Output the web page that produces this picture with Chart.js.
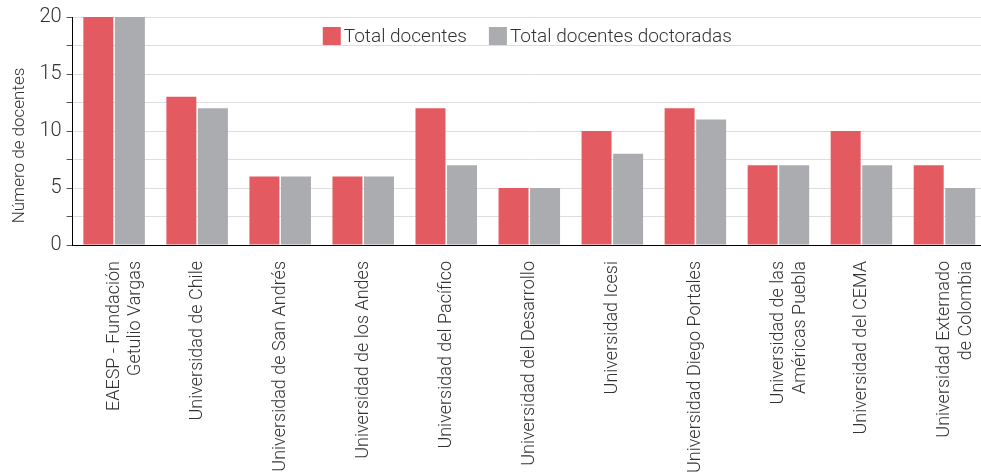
<!DOCTYPE html>
<html>
<head>
<meta charset="utf-8">
<script src="https://cdn.jsdelivr.net/npm/chart.js@4"></script>
<style>
  html, body { margin: 0; background: #fff; overflow: hidden; }
  #wrap { width: 986px; height: 476px; }
</style>
</head>
<body>
<div id="wrap"><canvas id="chart"></canvas></div>
<script>
const universities = [
  ["EAESP - Fundación", "Getulio Vargas"],
  "Universidad de Chile",
  "Universidad de San Andrés",
  "Universidad de los Andes",
  "Universidad del Pacífico",
  "Universidad del Desarrollo",
  "Universidad Icesi",
  "Universidad Diego Portales",
  ["Universidad de las", "Américas Puebla"],
  "Universidad del CEMA",
  ["Universidad Externado", "de Colombia"],
];
const totalDocentes = [20, 13, 6, 6, 12, 5, 10, 12, 7, 10, 7];
const totalDoctoradas = [20, 12, 6, 6, 7, 5, 8, 11, 7, 7, 5];
const yTicks = [0, 5, 10, 15, 20];

const red = "#e35b61";
const gray = "#abacb0";
const textColor = "#333";

Chart.defaults.font.family = "Roboto";
Chart.defaults.font.weight = 300;
Chart.defaults.color = textColor;

// legend drawn inside the plot, centred on it
const innerLegend = {
  id: "innerLegend",
  afterDraw(chart) {
    const ctx = chart.ctx;
    const area = chart.chartArea;
    const box = 18, gapText = 3, gapItem = 22;
    ctx.save();
    ctx.font = "300 19px Roboto";
    ctx.textBaseline = "middle";
    const items = chart.data.datasets.map((ds) => ({
      label: ds.label,
      color: ds.backgroundColor,
      w: box + gapText + ctx.measureText(ds.label).width,
    }));
    const total = items.reduce((s, it) => s + it.w, 0) + gapItem * (items.length - 1);
    let x = (area.left + area.right) / 2 - 2 - total / 2;
    const y = area.top + 19;
    items.forEach((it) => {
      ctx.fillStyle = it.color;
      ctx.fillRect(x, y - box / 2, box, box);
      ctx.fillStyle = textColor;
      ctx.fillText(it.label, x + box + gapText, y + 1);
      x += it.w + gapItem;
    });
    ctx.restore();
  },
};

new Chart(document.getElementById("chart"), {
  type: "bar",
  data: {
    labels: universities,
    datasets: [
      {
        label: "Total docentes",
        data: totalDocentes,
        backgroundColor: red,
        categoryPercentage: 0.76,
        barPercentage: 0.95,
      },
      {
        label: "Total docentes doctoradas",
        data: totalDoctoradas,
        backgroundColor: gray,
        categoryPercentage: 0.76,
        barPercentage: 0.95,
      },
    ],
  },
  plugins: [innerLegend],
  options: {
    responsive: true,
    maintainAspectRatio: false,
    animation: false,
    layout: { padding: { top: 14, left: 10, right: 0, bottom: 0 } },
    plugins: {
      tooltip: { enabled: false },
      legend: { display: false },
    },
    scales: {
      x: {
        afterFit: (s) => { s.paddingRight = 0; },
        grid: { display: false },
        border: { color: "#000", width: 1 },
        ticks: {
          maxRotation: 90,
          minRotation: 90,
          autoSkip: false,
          padding: 8,
          color: textColor,
          font: { size: 18 },
        },
      },
      y: {
        min: 0,
        max: 20,
        border: { color: "#000", width: 1 },
        grid: { color: "#dedede", tickLength: 6, tickColor: "#555" },
        afterBuildTicks: (axis) => {
          const t = [];
          for (let v = 0; v <= 20; v += 2.5) t.push({ value: v });
          axis.ticks = t;
        },
        ticks: {
          padding: 5,
          color: textColor,
          font: { size: 20 },
          callback: (v) => (yTicks.includes(v) ? v : ""),
        },
        title: {
          display: true,
          // trailing spaces push the title down, as in the source
          text: "Número de docentes       ",
          color: textColor,
          font: { size: 17 },
          padding: { top: 0, bottom: 4 },
        },
      },
    },
  },
});
</script>
</body>
</html>
